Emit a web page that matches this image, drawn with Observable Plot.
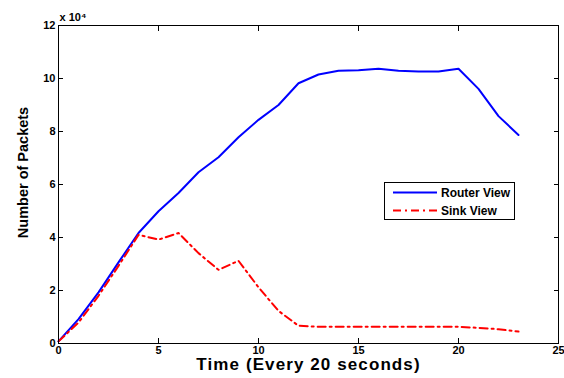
<!DOCTYPE html>
<html>
<head>
<meta charset="utf-8">
<script src="https://cdn.jsdelivr.net/npm/d3@7"></script>
<script src="https://cdn.jsdelivr.net/npm/@observablehq/plot@0.6"></script>
<style>
  html, body { margin: 0; padding: 0; background: #fff; }
  #wrap { position: relative; width: 564px; height: 378px; }
  #legend { position: absolute; left: 384px; top: 182px; width: 131px; height: 38px;
    border: 1px solid #000; background: #fff; box-sizing: border-box; }
</style>
</head>
<body>
<div id="wrap"></div>
<script>
const time = [0,1,2,3,4,5,6,7,8,9,10,11,12,13,14,15,16,17,18,19,20,21,22,23];
const routerView = [800,9200,19300,30600,41700,49900,56800,64600,70300,77800,84400,90000,98200,101500,102900,103100,103700,102900,102600,102600,103700,96100,85800,78700];
const sinkView = [800,7900,18000,29300,41000,39200,41700,34100,27800,31200,21200,12300,6700,6300,6300,6300,6300,6300,6300,6300,6300,5900,5400,4500];
const xTicks = [0,5,10,15,20,25];
const yTicks = [0,20000,40000,60000,80000,100000,120000];
const seriesNames = ["Router View", "Sink View"];
const colors = ["#0000ff", "#ff0000"];
const xLabel = "Time (Every 20 seconds)";
const yLabel = "Number of Packets";
const expLabel = "x 10⁴";

const router = time.map((t, i) => ({t, v: routerView[i]}));
const sink = time.map((t, i) => ({t, v: sinkView[i]}));

const font = "'Liberation Sans', Arial, sans-serif";
const chart = Plot.plot({
  width: 564,
  height: 378,
  marginLeft: 58,
  marginRight: 6,
  marginTop: 25,
  marginBottom: 35,
  style: {fontFamily: font, background: "#fff", overflow: "visible"},
  x: {domain: [0, 25]},
  y: {domain: [0, 120000]},
  marks: [
    Plot.line(router, {x: "t", y: "v", stroke: colors[0], strokeWidth: 2}),
    Plot.line(sink, {x: "t", y: "v", stroke: colors[1], strokeWidth: 2, strokeDasharray: "8,4,2,4"}),
    Plot.frame({stroke: "#000", strokeWidth: 1}),
    Plot.axisX({anchor: "bottom", ticks: xTicks, tickSize: -5, tickPadding: 7.5, tickFormat: d => String(d), fontSize: 11, fontWeight: "bold", fill: "#000", label: null}),
    Plot.axisX({anchor: "top", ticks: xTicks, tickSize: -5, tickFormat: () => "", label: null}),
    Plot.axisY({anchor: "left", ticks: yTicks, tickSize: -5, tickPadding: 8, tickFormat: d => String(d / 10000), fontSize: 11, fontWeight: "bold", fill: "#000", label: null}),
    Plot.axisY({anchor: "right", ticks: yTicks, tickSize: -5, tickFormat: () => "", label: null}),
    Plot.text([xLabel], {text: d => d, frameAnchor: "bottom", dy: 26.5, fontSize: 17, fontWeight: "bold", fill: "#000"}),
    Plot.text([yLabel], {text: d => d, frameAnchor: "left", textAnchor: "middle", rotate: -90, dx: -35, dy: -12, fontSize: 14.5, fontWeight: "bold", fill: "#000"}),
    Plot.text([expLabel], {text: d => d, frameAnchor: "top-left", textAnchor: "start", lineAnchor: "bottom", dy: -5, dx: 1, fontSize: 11, fontWeight: "bold", fill: "#000"})
  ]
});
const wrap = document.getElementById("wrap");
wrap.appendChild(chart);
d3.select(chart).selectAll("text").filter(function() { return this.textContent === xLabel; })
  .style("letter-spacing", "1.1px");

// legend
const legend = document.createElement("div");
legend.id = "legend";
const ns = "http://www.w3.org/2000/svg";
const lsvg = document.createElementNS(ns, "svg");
lsvg.setAttribute("width", 129);
lsvg.setAttribute("height", 36);
lsvg.style.position = "absolute";
lsvg.style.left = "0";
lsvg.style.top = "0";
seriesNames.forEach((name, i) => {
  const yy = 9.5 + i * 18;
  const ln = document.createElementNS(ns, "line");
  ln.setAttribute("x1", 8); ln.setAttribute("x2", 52);
  ln.setAttribute("y1", yy); ln.setAttribute("y2", yy);
  ln.setAttribute("stroke", colors[i]);
  ln.setAttribute("stroke-width", 2);
  if (i === 1) ln.setAttribute("stroke-dasharray", "8,4,2,4");
  lsvg.appendChild(ln);
  const tx = document.createElementNS(ns, "text");
  tx.setAttribute("x", 56); tx.setAttribute("y", yy + 4.5);
  tx.setAttribute("font-family", font);
  tx.setAttribute("font-weight", "bold");
  tx.setAttribute("font-size", 12);
  tx.textContent = name;
  lsvg.appendChild(tx);
});
legend.appendChild(lsvg);
wrap.appendChild(legend);
</script>
</body>
</html>
